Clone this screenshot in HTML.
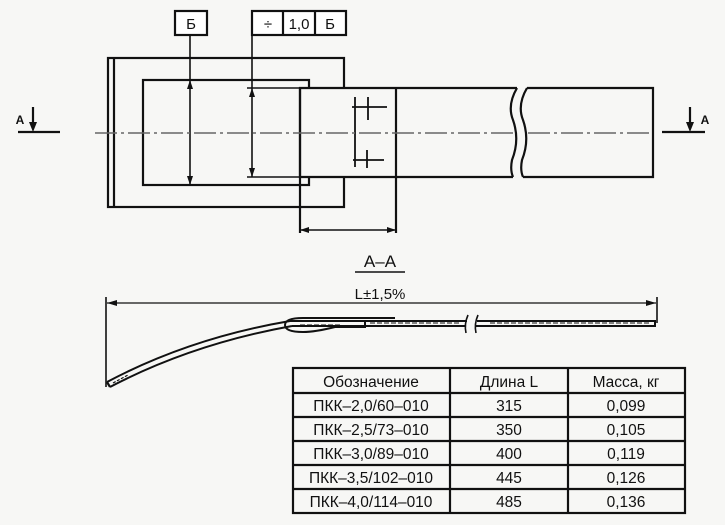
<!DOCTYPE html>
<html><head><meta charset="utf-8"><style>
html,body{margin:0;padding:0;background:#f7f7f5;}
svg{display:block}
text{font-family:"Liberation Sans","DejaVu Sans",sans-serif;fill:#111}
</style></head><body>
<svg width="725" height="525" viewBox="0 0 725 525" xmlns="http://www.w3.org/2000/svg">
<rect width="725" height="525" fill="#f7f7f5"/>
<g stroke="#111" stroke-width="2.2" fill="none">
<rect x="175" y="11" width="32" height="24" fill="#fff"/>
<rect x="252" y="11" width="94" height="24" fill="#fff"/>
<line x1="283" y1="11" x2="283" y2="35"/>
<line x1="315" y1="11" x2="315" y2="35"/>
<rect x="108" y="58" width="236" height="149"/>
<line x1="114" y1="58" x2="114" y2="207"/>
<rect x="143" y="80" width="166" height="105"/>
<path d="M517 88 L300 88 L300 177 L513 177" fill="#f7f7f5"/>
<line x1="300" y1="88" x2="300" y2="233"/>
<line x1="396" y1="88" x2="396" y2="233"/>
<path d="M517 88 Q507 105 513 120 Q520 140 512 160 Q510 170 513 177"/>
<path d="M527 88 Q517 105 523 120 Q530 140 522 160 Q520 170 523 177"/>
<path d="M527 88 L653 88 L653 177 L523 177"/>
<line x1="355" y1="97" x2="355" y2="167" stroke-width="1.8"/>
<line x1="352" y1="107" x2="387" y2="107" stroke-width="1.8"/>
<line x1="368" y1="97" x2="368" y2="120" stroke-width="1.8"/>
<line x1="353" y1="160" x2="384" y2="160" stroke-width="1.8"/>
<line x1="367" y1="150" x2="367" y2="168" stroke-width="1.8"/>
<line x1="190" y1="35" x2="190" y2="185" stroke-width="1.6"/>
<line x1="252" y1="35" x2="252" y2="177" stroke-width="1.6"/>
<line x1="247" y1="88" x2="300" y2="88" stroke-width="1.6"/>
<line x1="247" y1="177" x2="300" y2="177" stroke-width="1.6"/>
<line x1="300" y1="230" x2="396" y2="230" stroke-width="1.6"/>
<line x1="18" y1="132" x2="60" y2="132"/>
<line x1="33" y1="107" x2="33" y2="128"/>
<line x1="662" y1="132" x2="705" y2="132"/>
<line x1="690" y1="107" x2="690" y2="128"/>
<line x1="355" y1="272" x2="405" y2="272" stroke-width="1.6"/>
<line x1="107" y1="303" x2="656" y2="303" stroke-width="1.3"/>
<line x1="106" y1="297" x2="106" y2="387" stroke-width="1.6"/>
<line x1="657" y1="297" x2="657" y2="323" stroke-width="1.6"/>
<path d="M107 382 Q190 338 290 321" stroke-width="2"/>
<path d="M110 387 Q192 344 292 326" stroke-width="2"/>
<line x1="107" y1="382" x2="110" y2="387"/>
<path d="M290 321 L467 321 M292 326 L465 326 M477 321 L655 321 L655 326 L475 326" stroke-width="2"/>
<path d="M468 315 Q464 324 466 333 M478 315 Q474 324 476 333" stroke-width="1.6"/>
<path d="M365 321 L365 327 L335 327 Q315 332 303 332 Q285 332 285 325 Q285 318 303 318 L395 318" stroke-width="2"/>
<path d="M300 325 L340 325 M370 323 L460 323 M490 323 L650 323" stroke-width="1" stroke-dasharray="5 2"/>
<path d="M113 383 L128 375" stroke-width="1.2" stroke-dasharray="3 1.5"/>
<rect x="293" y="368" width="392" height="145" stroke-width="2.2"/>
<line x1="450" y1="368" x2="450" y2="513"/>
<line x1="568" y1="368" x2="568" y2="513"/>
<line x1="293" y1="393" x2="685" y2="393"/>
<line x1="293" y1="417" x2="685" y2="417"/>
<line x1="293" y1="441" x2="685" y2="441"/>
<line x1="293" y1="465" x2="685" y2="465"/>
<line x1="293" y1="489" x2="685" y2="489"/>
</g>
<g stroke="#666" stroke-width="1.6" fill="none" stroke-dasharray="22 4 3 4">
<line x1="95" y1="133" x2="513" y2="133"/>
<line x1="528" y1="133" x2="650" y2="133"/>
</g>
<g fill="#111">
<path d="M190 80 l-3 9 h6z"/><path d="M190 185 l-3 -9 h6z"/>
<path d="M252 88 l-3 9 h6z"/><path d="M252 177 l-3 -9 h6z"/>
<path d="M300 230 l9 -3 v6z"/><path d="M396 230 l-9 -3 v6z"/>
<path d="M33 132 l-4 -10 h8z"/><path d="M690 132 l-4 -10 h8z"/>
<path d="M107 303 l10 -3 v6z"/><path d="M656 303 l-10 -3 v6z"/>
</g>
<g font-size="15" text-anchor="middle">
<text x="191" y="29">Б</text>
<text x="268" y="29">÷</text>
<text x="299" y="29">1,0</text>
<text x="330" y="29">Б</text>
<text x="20" y="124" font-size="12" font-weight="bold">А</text>
<text x="705" y="124" font-size="12" font-weight="bold">А</text>
<text x="380" y="267" font-size="17">А–А</text>
<text x="380" y="299" font-size="15">L±1,5%</text>
</g>
<g font-size="15.5" text-anchor="middle">
<text x="371" y="387">Обозначение</text><text x="509" y="387">Длина L</text><text x="626" y="387">Масса, кг</text>
<text x="371" y="411">ПКК–2,0/60–010</text><text x="509" y="411">315</text><text x="626" y="411">0,099</text>
<text x="371" y="435">ПКК–2,5/73–010</text><text x="509" y="435">350</text><text x="626" y="435">0,105</text>
<text x="371" y="459">ПКК–3,0/89–010</text><text x="509" y="459">400</text><text x="626" y="459">0,119</text>
<text x="371" y="483">ПКК–3,5/102–010</text><text x="509" y="483">445</text><text x="626" y="483">0,126</text>
<text x="371" y="507">ПКК–4,0/114–010</text><text x="509" y="507">485</text><text x="626" y="507">0,136</text>
</g>
</svg>
</body></html>
